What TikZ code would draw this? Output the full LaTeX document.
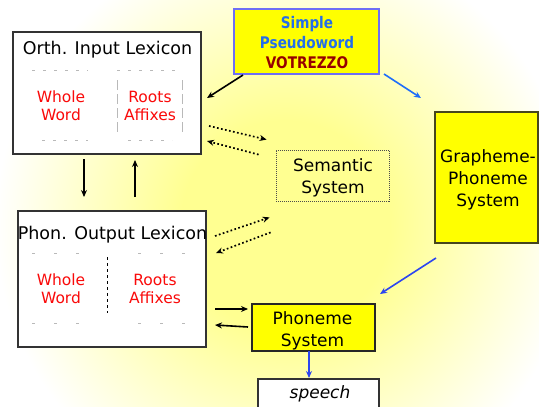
\documentclass[tikz,border=0pt]{standalone}
\usepackage{fontspec}
\setmainfont{DejaVu Sans}
\usetikzlibrary{arrows.meta,calc}

\definecolor{glow}{RGB}{255,255,145}
\definecolor{boxyellow}{RGB}{255,255,0}
\definecolor{pwblue}{RGB}{35,110,235}
\definecolor{pwred}{RGB}{150,0,0}
\definecolor{lexred}{RGB}{250,10,10}
\definecolor{routeblue}{RGB}{45,70,240}
\definecolor{topblue}{RGB}{30,110,250}
\definecolor{pwframe}{RGB}{110,110,245}
\definecolor{olive}{RGB}{70,70,30}

\pgfdeclareradialshading{glowbg}{\pgfpoint{0bp}{0bp}}{%
  color(0bp)=(glow); color(9bp)=(glow); color(25bp)=(white); color(50bp)=(white)}

\newcommand{\narrow}[1]{\scalebox{0.85}[1]{#1}}

\tikzset{
  lexbox/.style={draw=black!80, line width=1.1pt, fill=white, inner sep=0pt, outer sep=0pt},
  yelbox/.style={draw=black!85, line width=1.1pt, fill=boxyellow, inner sep=0pt, outer sep=0pt},
  txt/.style={align=center, inner sep=0pt, font=\fontsize{17}{22}\selectfont},
  ttl/.style={inner sep=0pt, font=\fontsize{17.5}{22}\selectfont},
  redtxt/.style={align=center, inner sep=0pt, text=lexred, font=\fontsize{15.5}{18}\selectfont},
  sep/.style={draw=gray!55, line width=0.6pt, dash pattern=on 3pt off 8pt},
  link/.style={line width=1.6pt, -{Stealth[length=7pt,width=6pt]}},
  assoc/.style={line width=1.7pt, dash pattern=on 1.7pt off 2.4pt, -{Stealth[length=7pt,width=6pt]}},
}

\begin{document}
\begin{tikzpicture}[x=1pt,y=-1pt]
\useasboundingbox (0,0) rectangle (539,407);
\clip (0,0) rectangle (539,407);

% soft yellow glow behind everything
\shade[shading=glowbg] (285,225) circle (290);

% orthographic input lexicon
\node[lexbox, minimum width=188, minimum height=122] (orth) at (107,93) {};
\node[ttl] (orthttl) at (107.5,50) {Orth. Input Lexicon};
\draw[sep] (32,70) -- (88,70);
\draw[sep] (117,70) -- (182,70);
\draw[sep] (42,140) -- (88,140);
\draw[sep] (128,140) -- (172,140);
\draw[sep, dash pattern=on 10pt off 4pt] (117,80) -- (117,133);
\draw[sep, dash pattern=on 10pt off 4pt] (182,80) -- (182,133);
\node[redtxt] (orthww) at (61,106) {Whole\\Word};
\node[redtxt] (orthra) at (150,106) {Roots\\Affixes};

% phonological output lexicon
\node[lexbox, minimum width=188, minimum height=136] (phon) at (112,279) {};
\node[ttl] (phonttl) at (112.5,235) {Phon. Output Lexicon};
\draw[sep, dash pattern=on 3pt off 19pt] (32,253) -- (80,253);
\draw[sep, dash pattern=on 3pt off 19pt] (138,253) -- (185,253);
\draw[sep, dash pattern=on 3pt off 19pt] (32,323) -- (80,323);
\draw[sep, dash pattern=on 3pt off 19pt] (138,323) -- (185,323);
\draw[black, line width=0.8pt, dash pattern=on 2.5pt off 3.5pt] (107,257) -- (107,313);
\node[redtxt] (phonww) at (61,288.5) {Whole\\Word};
\node[redtxt] (phonra) at (155,288.5) {Roots\\Affixes};

% input item
\node[yelbox, draw=pwframe, minimum width=145, minimum height=65] (pseudo) at (306.5,41.5) {};
\node[align=center, inner sep=0pt, font=\bfseries\fontsize{16}{20}\selectfont] (pstext) at (307,43)
  {\textcolor{pwblue}{\narrow{Simple}}\\\textcolor{pwblue}{\narrow{Pseudoword}}\\\textcolor{pwred}{\narrow{VOTREZZO}}};

% grapheme-phoneme conversion
\node[yelbox, draw=olive, minimum width=103, minimum height=131] (gp) at (486.5,177.5) {};
\node[txt] (gptext) at (488,180) {Grapheme-\\Phoneme\\System};

% semantic system
\node[draw=black!70, line width=0.8pt, dash pattern=on 1pt off 1pt, inner sep=0pt,
      minimum width=113, minimum height=51] (sem) at (332.5,175.5) {};
\node[txt] (semtext) at (333,177.5) {Semantic\\System};

% phoneme system
\node[yelbox, minimum width=123, minimum height=47] (phoneme) at (313.5,327.5) {};
\node[txt] (phonemetext) at (312.5,330.5) {Phoneme\\System};

% output
\node[lexbox, minimum width=121, minimum height=44] (speech) at (318.5,401) {};
\node[txt, font=\itshape\fontsize{17}{22}\selectfont] (speechtext) at (320,394) {speech};

% lexical route
\draw[link] ($(pseudo.south west)+(9,1)$) -- ($(orth.east)+(6,5)$);
\draw[link] ($(orth.south)+(-23,5)$) -- ($(phon.north)+(-28,-14)$);
\draw[link] ($(phon.north)+(23,-14)$) -- ($(orth.south)+(28,6)$);
\draw[assoc] ($(orth.east)+(8,33)$) -- ($(sem.north west)+(-9,-10)$);
\draw[assoc] ($(sem.north west)+(-17,5)$) -- ($(orth.east)+(6,48)$);
\draw[assoc] ($(phon.north east)+(9,25)$) -- ($(sem.south west)+(-6,16)$);
\draw[assoc] ($(sem.south west)+(-5,31)$) -- ($(phon.north east)+(10,42)$);
\draw[link] ($(phon.east)+(9,30)$) -- ($(phoneme.west)+(-4,-18.5)$);
\draw[link] ($(phoneme.west)+(-4,-0.5)$) -- ($(phon.east)+(9,46)$);

% sublexical route
\draw[link, topblue] ($(pseudo.south east)+(5,0)$) -- ($(gp.north west)+(-14,-14)$);
\draw[link, routeblue] ($(gp.south west)+(1,15)$) -- ($(phoneme.north east)+(5,-10)$);
\draw[link, routeblue] ($(phoneme.south)+(-4.5,0)$) -- ($(speech.north)+(-9.5,-1)$);
\end{tikzpicture}
\end{document}
